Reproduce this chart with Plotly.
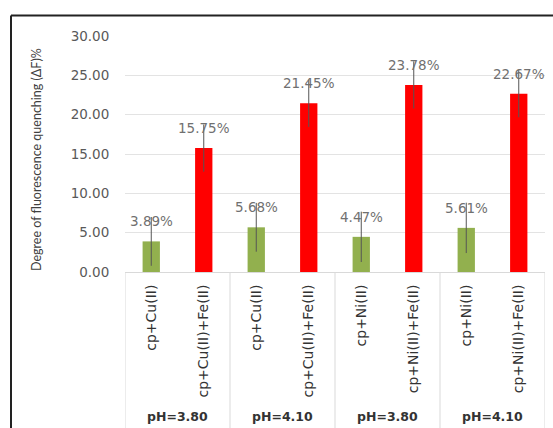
import plotly.graph_objects as go

# Samples, quenching values (%) and standard deviations
samples = ["cp+Cu(II)", "cp+Cu(II)+Fe(II)", "cp+Cu(II)", "cp+Cu(II)+Fe(II)",
           "cp+Ni(II)", "cp+Ni(II)+Fe(II)", "cp+Ni(II)", "cp+Ni(II)+Fe(II)"]
ph_groups = ["pH=3.80", "pH=4.10", "pH=3.80", "pH=4.10"]
quenching = [3.89, 15.75, 5.68, 21.45, 4.47, 23.78, 5.61, 22.67]
errors = [3.1, 3.0, 3.1, 3.0, 3.2, 3.0, 3.2, 3.0]
y_ticks = [0, 5, 10, 15, 20, 25, 30]

GREEN = "#92B04E"
RED = "#FF0000"
FONT = "DejaVu Sans, sans-serif"
bar_colors = [GREEN if "Fe" not in s else RED for s in samples]
xs = list(range(len(samples)))

fig = go.Figure()
fig.add_trace(go.Bar(
    x=xs, y=quenching, width=0.33,
    marker=dict(color=bar_colors, line=dict(width=0)),
    error_y=dict(type="data", array=errors, visible=True,
                 color="#555555", thickness=1, width=0),
    showlegend=False,
))

annotations = []
# value labels above each bar
for x, v in zip(xs, quenching):
    annotations.append(dict(
        x=x, y=v, xref="x", yref="y", text=f"{v:.2f}%", showarrow=False,
        yanchor="bottom", yshift=10,
        font=dict(family=FONT, size=13.5, color="#707070"),
    ))

# group labels and separators
H_PLOT = 237.0
def py(pix):
    return (272.5 - pix) / H_PLOT

shapes = []
group_size = 2
for g, name in enumerate(ph_groups):
    cx = g * group_size + (group_size - 1) / 2
    annotations.append(dict(
        x=cx, y=py(418), xref="x", yref="paper", text=f"<b>{name}</b>",
        showarrow=False, xanchor="center", yanchor="middle",
        font=dict(family=FONT, size=12.5, color="#333333"),
    ))
for b in range(len(ph_groups) + 1):
    xb = b * group_size - 0.5
    shapes.append(dict(type="line", xref="x", yref="paper", x0=xb, x1=xb,
                       y0=0, y1=py(440), line=dict(color="#D9D9D9", width=1)))

# y-axis title
annotations.append(dict(
    x=(37 - 125) / 420.0, y=py(160), xref="paper", yref="paper",
    xanchor="center", yanchor="middle",
    text="Degree of fluorescence quenching (ΔF)%", textangle=-90, showarrow=False,
    font=dict(family="Lato, Open Sans, sans-serif", size=12.5, color="#404040"),
))

# outer chart frame (top and left)
fx = (11 - 125) / 420.0
shapes.append(dict(type="line", xref="paper", yref="paper", x0=fx, x1=(560 - 125) / 420.0,
                   y0=py(15), y1=py(15), line=dict(color="#222222", width=2)))
shapes.append(dict(type="line", xref="paper", yref="paper", x0=fx, x1=fx,
                   y0=py(15), y1=py(440), line=dict(color="#222222", width=2)))

fig.update_layout(
    width=553, height=428,
    margin=dict(l=125, r=8, t=35.5, b=155.5),
    paper_bgcolor="white", plot_bgcolor="white",
    annotations=annotations, shapes=shapes,
    xaxis=dict(
        range=[-0.5, len(samples) - 0.5], tickmode="array", tickvals=xs, ticktext=samples,
        tickangle=-90, showgrid=False, zeroline=False,
        showline=True, linecolor="#D9D9D9", linewidth=1,
        ticks="outside", ticklen=6, tickcolor="rgba(0,0,0,0)",
        tickfont=dict(family=FONT, size=14, color="#333333"),
    ),
    yaxis=dict(
        range=[0, 30], tickmode="array", tickvals=y_ticks,
        ticktext=[f"{t:.2f}" for t in y_ticks],
        showgrid=True, gridcolor="#E3E3E3", gridwidth=1, zeroline=False,
        ticks="outside", ticklen=12, tickcolor="rgba(0,0,0,0)",
        tickfont=dict(family=FONT, size=13.5, color="#595959"),
    ),
    bargap=0.67,
)

fig.write_html("out.html")
